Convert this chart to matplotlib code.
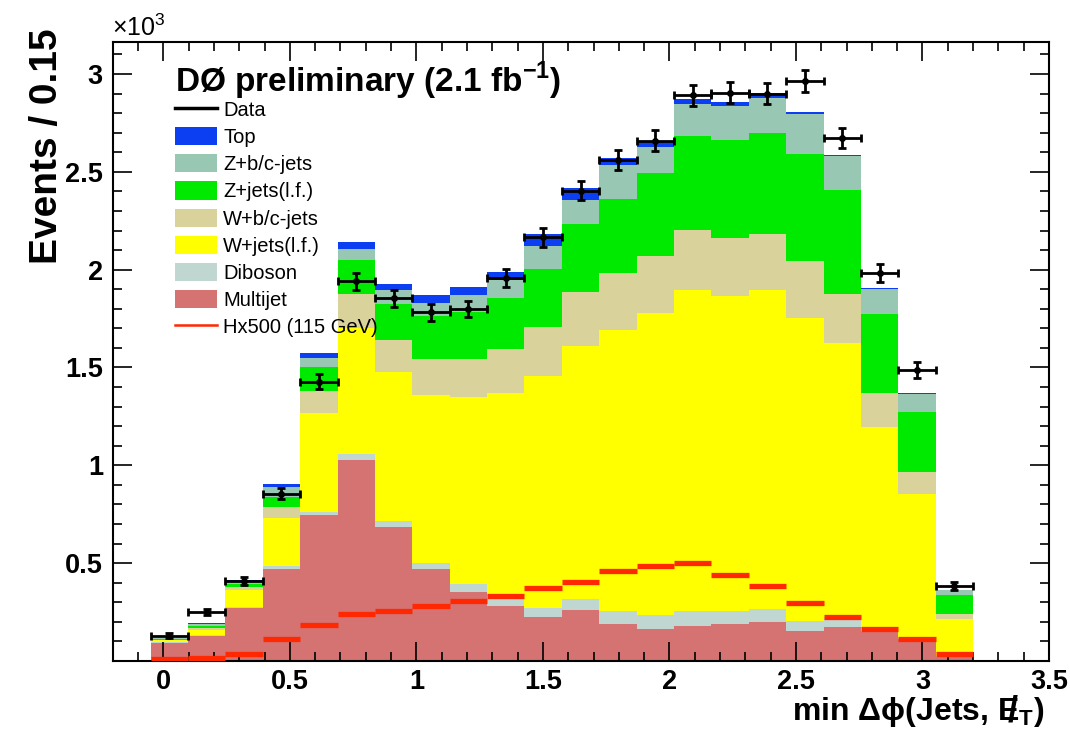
import numpy as np
import matplotlib
matplotlib.use('Agg')
import matplotlib.pyplot as plt
from matplotlib.patches import Patch
from matplotlib.lines import Line2D
from matplotlib.ticker import MultipleLocator, FuncFormatter

plt.rcParams['font.family'] = ['Liberation Sans', 'DejaVu Sans']
plt.rcParams['mathtext.fontset'] = 'custom'
plt.rcParams['mathtext.rm'] = 'Liberation Sans'
plt.rcParams['mathtext.bf'] = 'Liberation Sans:bold'

# binning of min dphi(jets, MET)
bin_lo, bin_hi, n_bins = -0.05, 3.2, 22

# all values in units of 10^3 events
data = [0.129, 0.250, 0.407, 0.856, 1.428, 1.940, 1.853, 1.782, 1.800, 1.957, 2.165,
        2.404, 2.559, 2.660, 2.892, 2.904, 2.899, 2.964, 2.674, 1.983, 1.487, 0.383]
data_err = [0.012, 0.016, 0.020, 0.029, 0.038, 0.044, 0.043, 0.042, 0.042, 0.044, 0.047,
            0.049, 0.051, 0.052, 0.054, 0.054, 0.054, 0.054, 0.052, 0.045, 0.039, 0.020]

multijet = [0.090, 0.130, 0.272, 0.470, 0.745, 1.027, 0.685, 0.472, 0.352, 0.279, 0.224,
            0.259, 0.190, 0.165, 0.178, 0.190, 0.199, 0.151, 0.173, 0.148, 0.110, 0.020]
diboson = [0.005, 0.005, 0.005, 0.014, 0.017, 0.030, 0.031, 0.031, 0.040, 0.061, 0.048,
           0.056, 0.063, 0.068, 0.075, 0.065, 0.068, 0.051, 0.051, 0.005, 0.005, 0.005]
wjets_lf = [0.010, 0.025, 0.084, 0.249, 0.507, 0.643, 0.763, 0.856, 0.956, 1.028, 1.186,
            1.297, 1.439, 1.545, 1.644, 1.608, 1.630, 1.553, 1.403, 1.044, 0.741, 0.191]
wjets_hf = [0.003, 0.008, 0.017, 0.055, 0.111, 0.177, 0.162, 0.185, 0.196, 0.225, 0.251,
            0.276, 0.291, 0.293, 0.307, 0.299, 0.287, 0.291, 0.248, 0.171, 0.111, 0.026]
zjets_lf = [0.005, 0.010, 0.017, 0.051, 0.121, 0.170, 0.184, 0.220, 0.242, 0.262, 0.296,
            0.345, 0.378, 0.424, 0.478, 0.500, 0.515, 0.546, 0.534, 0.406, 0.307, 0.093]
zjets_hf = [0.003, 0.012, 0.015, 0.048, 0.046, 0.058, 0.069, 0.068, 0.086, 0.093, 0.114,
            0.125, 0.176, 0.130, 0.163, 0.174, 0.180, 0.201, 0.171, 0.126, 0.090, 0.026]
top = [0.001, 0.005, 0.005, 0.017, 0.026, 0.034, 0.034, 0.038, 0.039, 0.040, 0.065,
       0.060, 0.034, 0.030, 0.029, 0.020, 0.025, 0.012, 0.008, 0.006, 0.004, 0.004]

signal = [0.008, 0.016, 0.037, 0.114, 0.182, 0.242, 0.257, 0.279, 0.306, 0.330, 0.375,
          0.404, 0.460, 0.485, 0.502, 0.438, 0.381, 0.296, 0.224, 0.165, 0.114, 0.037]

labels = ['Multijet', 'Diboson', 'W+jets(l.f.)', 'W+b/c-jets',
          'Z+jets(l.f.)', 'Z+b/c-jets', 'Top']
colors = ['#d57272', '#bfd7d0', '#ffff00', '#d9d29b', '#00ea00', '#98c8b3', '#0c3ff2']

edges = np.linspace(bin_lo, bin_hi, n_bins + 1)
centers = 0.5 * (edges[:-1] + edges[1:])
half_w = 0.5 * (edges[1] - edges[0])

fig = plt.figure(figsize=(10.7, 7.32), dpi=100)
ax = fig.add_axes([0.1053, 0.097, 0.8751, 0.8463])

# stacked backgrounds
base = np.zeros(n_bins)
for vals, col in zip([multijet, diboson, wjets_lf, wjets_hf, zjets_lf, zjets_hf, top], colors):
    vals = np.asarray(vals)
    ax.stairs(base + vals, edges, baseline=base.copy(), fill=True, color=col, lw=0, zorder=1)
    base = base + vals

ax.hlines(signal, edges[:-1], edges[1:], colors='#ff2800', lw=3.8, zorder=3)

ax.errorbar(centers, data, xerr=half_w, yerr=data_err, fmt='o', ms=4, color='black',
            elinewidth=2, capsize=3, capthick=2, zorder=4)

ax.set_xlim(-0.2, 3.5)
ax.set_ylim(0, 3.166)

ax.xaxis.set_major_locator(MultipleLocator(0.5))
ax.xaxis.set_minor_locator(MultipleLocator(0.1))
ax.yaxis.set_major_locator(MultipleLocator(0.5))
ax.yaxis.set_minor_locator(MultipleLocator(0.1))
ax.xaxis.set_major_formatter(FuncFormatter(lambda v, p: '%g' % v))
ax.yaxis.set_major_formatter(FuncFormatter(lambda v, p: '' if abs(v) < 1e-9 else '%g' % v))
ax.tick_params(which='both', direction='in', top=True, right=True, width=1.2, color='black')
ax.tick_params(which='major', length=13.5, labelsize=19.5)
ax.tick_params(axis='x', which='major', pad=6)
ax.tick_params(axis='y', which='major', pad=7)
ax.tick_params(which='minor', length=6.5)
for lab in ax.get_xticklabels() + ax.get_yticklabels():
    lab.set_fontweight('bold')
for sp in ax.spines.values():
    sp.set_linewidth(1.5)

fig.text(0.044, 1 - 28 / 732, 'Events / 0.15', rotation=90, ha='center', va='top',
         fontsize=28, fontweight='bold')

# x label (right aligned), with a slash drawn over the E (missing ET)
xl_right, xl_y = 1045 / 1070, 1 - 720 / 732
lab_kw = dict(fontsize=23, fontweight='bold', va='baseline')
xlab = fig.text(xl_right, xl_y, 'min Δϕ(Jets, E$_{\\mathbf{T}}$)', ha='right', **lab_kw)
fig.canvas.draw()
rend = fig.canvas.get_renderer()
xl_left = xlab.get_window_extent(rend).x0 / fig.bbox.width
tmp1 = fig.text(xl_left, xl_y, 'min Δϕ(Jets, E', ha='left', **lab_kw)
tmp2 = fig.text(xl_left, xl_y, 'E', ha='left', **lab_kw)
w1 = tmp1.get_window_extent(rend).width
w2 = tmp2.get_window_extent(rend).width
tmp1.remove()
tmp2.remove()
fig.text(xl_left + (w1 - w2 / 2 + 6) / fig.bbox.width, xl_y - 2 / 732, '/', ha='center',
         fontsize=26, fontweight='bold', va='baseline')

fig.text(112 / 1070, 1 - 36 / 732, r'$\times$10$^{3}$', ha='left', va='baseline', fontsize=18)

fig.text(175 / 1070, 1 - 92 / 732, 'DØ preliminary (2.1 fb$^{\\mathbf{-1}}$)',
         ha='left', va='baseline', fontsize=24, fontweight='bold')

handles = [Line2D([], [], color='black', lw=2.5)]
handles += [Patch(facecolor=c, edgecolor='none') for c in colors[::-1]]
handles += [Line2D([], [], color='#ff2800', lw=1.8)]
names = ['Data'] + labels[::-1] + ['Hx500 (115 GeV)']
leg = fig.legend(handles, names, loc='upper left', bbox_to_anchor=(175 / 1070, 1 - 100 / 732),
                 frameon=False, fontsize=14.5, handlelength=2.1, handleheight=1.0,
                 handletextpad=0.3, labelspacing=0.36, borderpad=0, borderaxespad=0)

fig.savefig('out.png', dpi=100)
